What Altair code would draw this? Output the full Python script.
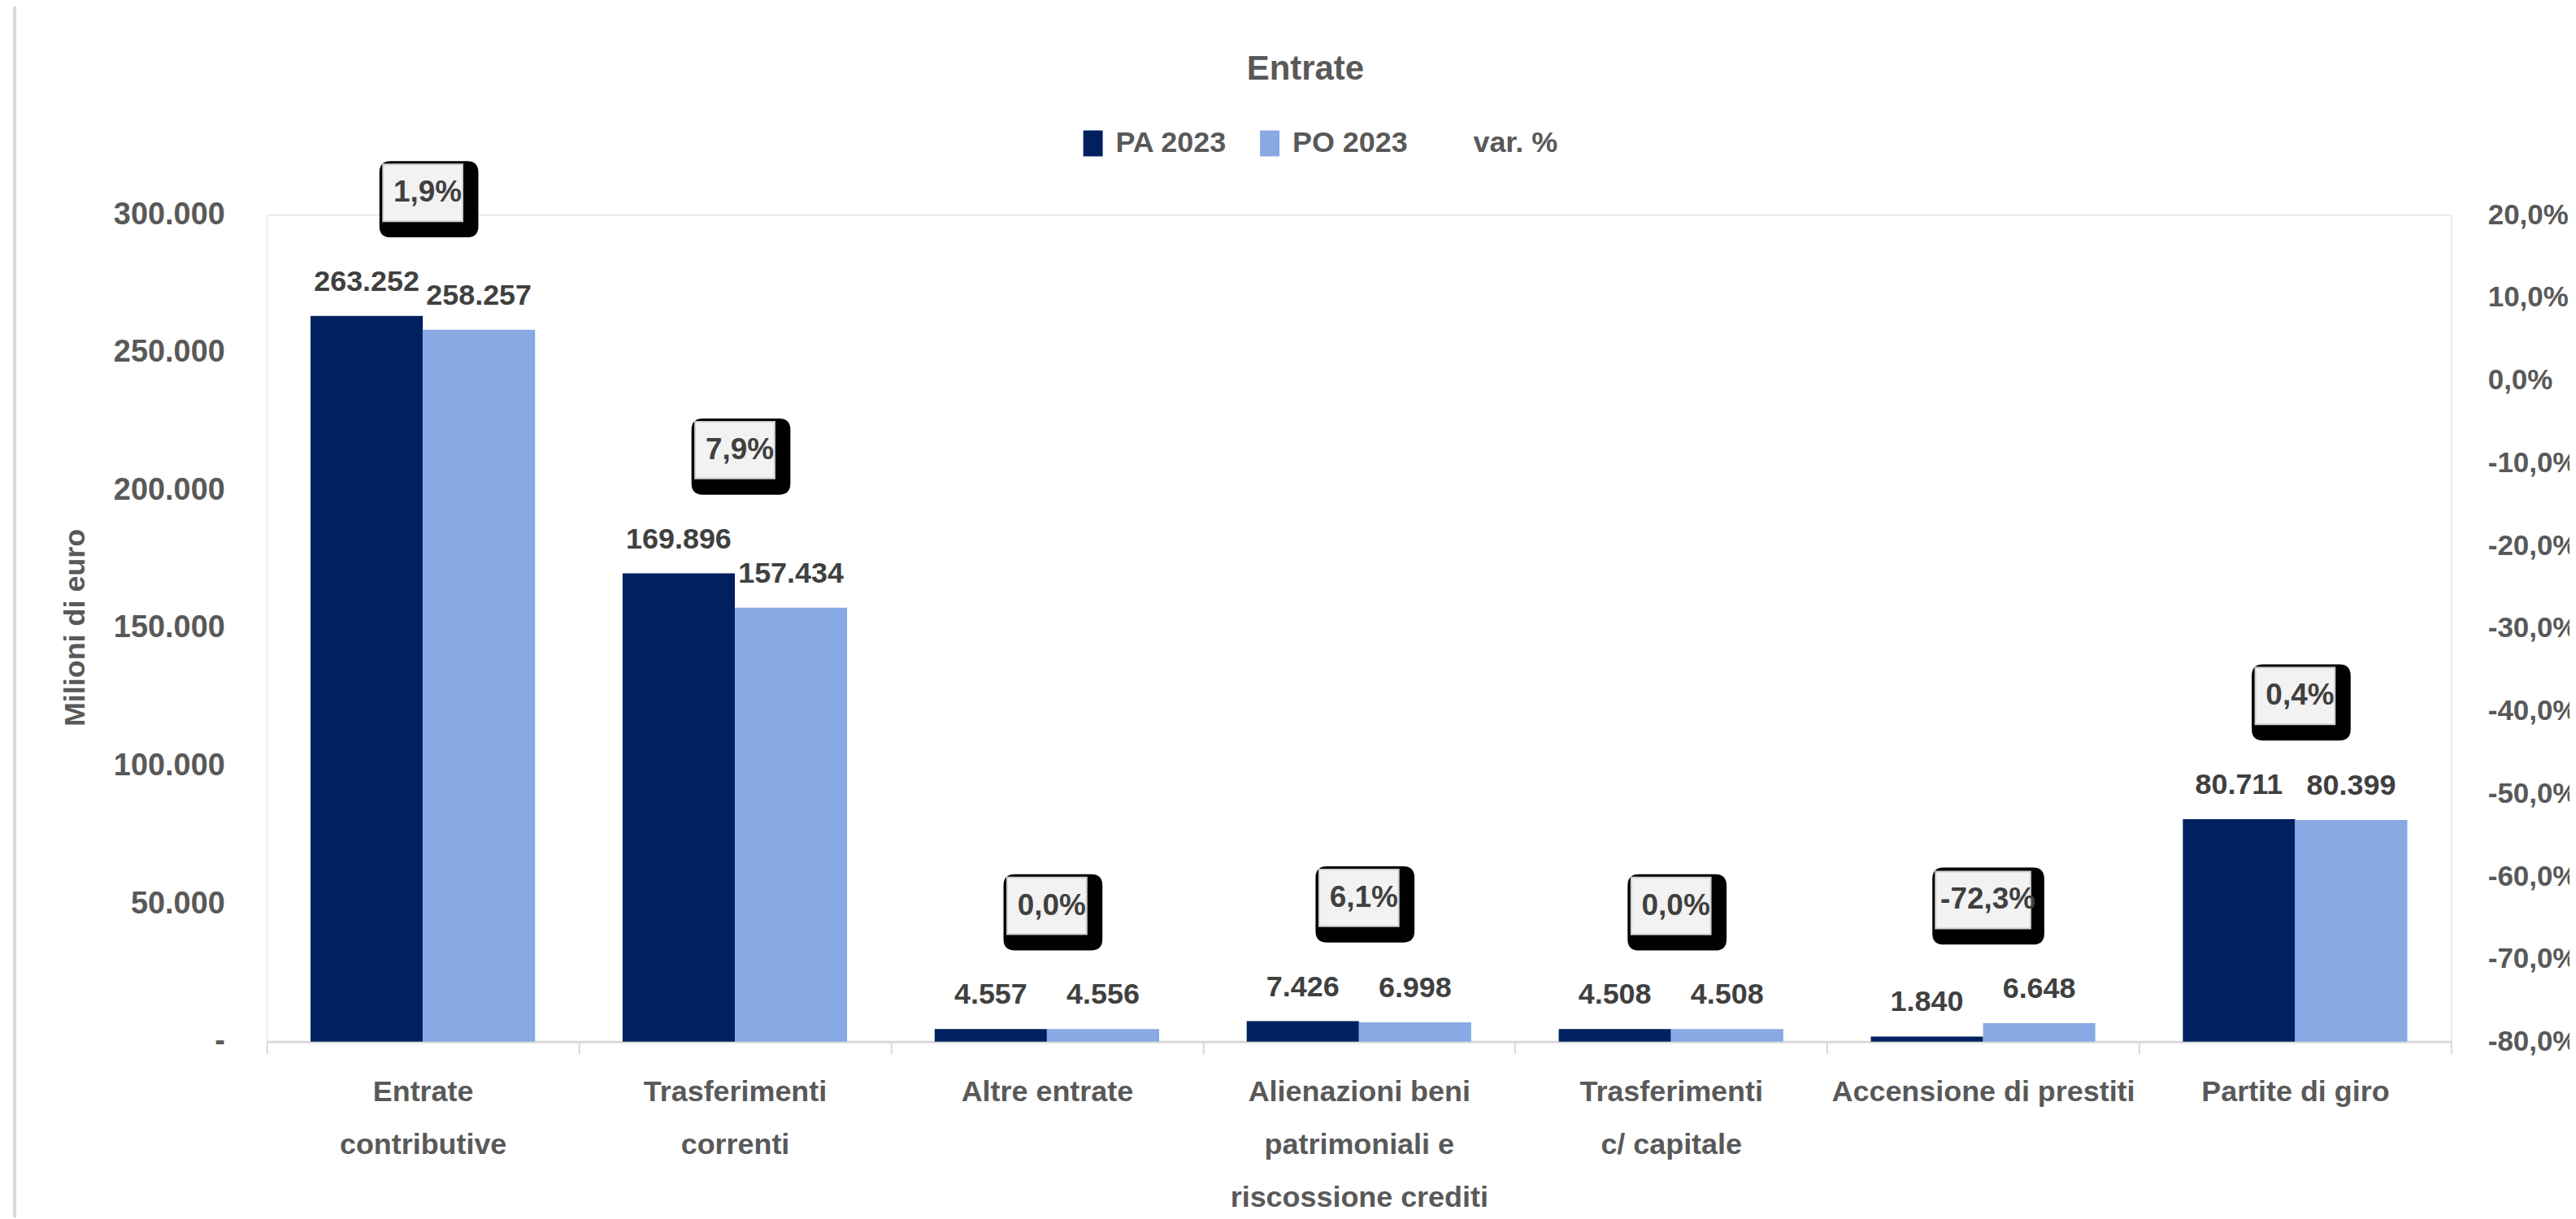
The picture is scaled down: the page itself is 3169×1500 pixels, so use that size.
import altair as alt
import pandas as pd

# ---------------- data ----------------
categories = [
    "Entrate\ncontributive",
    "Trasferimenti\ncorrenti",
    "Altre entrate",
    "Alienazioni beni\npatrimoniali e\nriscossione crediti",
    "Trasferimenti\nc/ capitale",
    "Accensione di prestiti",
    "Partite di giro",
]
pa_2023 = [263252, 169896, 4557, 7426, 4508, 1840, 80711]
po_2023 = [258257, 157434, 4556, 6998, 4508, 6648, 80399]
var_pct = [1.9, 7.9, 0.0, 6.1, 0.0, -72.3, 0.4]
series = ["PA 2023", "PO 2023"]
legend_items = ["PA 2023", "PO 2023", "var. %"]
left_ticks = [0, 50000, 100000, 150000, 200000, 250000, 300000]
right_ticks = [-0.8, -0.7, -0.6, -0.5, -0.4, -0.3, -0.2, -0.1, 0.0, 0.1, 0.2]

# ---------------- style ----------------
DARK = "#002060"
LIGHT = "#88A9E4"
GREY = "#595959"
LABEL = "#404040"
FONT = "Liberation Sans, Arial"


def it_thousands(v):
    return f"{v:,}".replace(",", ".")


def it_pct(v):
    return f"{v:.1f}%".replace(".", ",")


rows = []
for c, a, b in zip(categories, pa_2023, po_2023):
    rows.append({"cat": c, "series": series[0], "value": a, "label": it_thousands(a)})
    rows.append({"cat": c, "series": series[1], "value": b, "label": it_thousands(b)})
bars_df = pd.DataFrame(rows)

box_df = pd.DataFrame({
    "cat": categories,
    "var": [v / 100 for v in var_pct],
    "var_label": [it_pct(v) for v in var_pct],
    "top": [max(a, b) for a, b in zip(pa_2023, po_2023)],
})
box_df["kind"] = ["long" if abs(v) >= 10 else "short" for v in var_pct]
box_df["kind2"] = box_df["kind"]


def rrect(x0, y0, x1, y1, r, u=50.0):
    f = lambda v: f"{v / u:.4f}"
    if r == 0:
        return f"M{f(x0)},{f(y0)}H{f(x1)}V{f(y1)}H{f(x0)}Z"
    return (
        f"M{f(x0 + r)},{f(y0)}H{f(x1 - r)}Q{f(x1)},{f(y0)} {f(x1)},{f(y0 + r)}"
        f"V{f(y1 - r)}Q{f(x1)},{f(y1)} {f(x1 - r)},{f(y1)}H{f(x0 + r)}"
        f"Q{f(x0)},{f(y1)} {f(x0)},{f(y1 - r)}V{f(y0 + r)}Q{f(x0)},{f(y0)} {f(x0 + r)},{f(y0)}Z"
    )


black_short = rrect(-53.5, -39, 68.5, 55, 14)
black_long = rrect(-62.5, -40, 75.5, 55, 14)
light_short = rrect(-49, -35, 49, 35, 0)
light_long = rrect(-58.5, -35, 58.5, 35, 0)
BOX_SIZE = 10000
BOX_DY = -152

x_enc = alt.X(
    "cat:N",
    sort=categories,
    scale=alt.Scale(domain=categories, paddingInner=0, paddingOuter=0),
    axis=alt.Axis(
        title=None,
        labelAngle=0,
        labelExpr="split(datum.label, '\\n')",
        labelFont=FONT,
        labelFontSize=36,
        labelFontWeight="bold",
        labelColor=GREY,
        labelLineHeight=65,
        labelPadding=30,
        labelBaseline="top",
        labelLimit=0,
        tickBand="extent",
        ticks=True,
        tickSize=15,
        tickColor="#D9D9D9",
        tickWidth=2,
        domainColor="#D9D9D9",
        domainWidth=3,
        grid=False,
    ),
)

y_left = alt.Y(
    "value:Q",
    scale=alt.Scale(domain=[0, 300000], nice=False, zero=True),
    axis=alt.Axis(
        title="Milioni di euro",
        values=left_ticks,
        labelExpr="datum.value == 0 ? '-\u00a0\u00a0' : format(datum.value / 1000, 'd') + '.000'",
        domain=False,
        ticks=False,
        grid=False,
        labelPadding=52,
        labelFont=FONT,
        labelFontWeight="bold",
        labelFontSize=38,
        labelColor=GREY,
        titleFont=FONT,
        titleFontSize=36,
        titleFontWeight="bold",
        titleColor=GREY,
        titleAngle=-90,
        titleX=-236,
        titleY=509,
        titleAlign="center",
        titleBaseline="middle",
    ),
)

xoff = alt.XOffset(
    "series:N", sort=series,
    scale=alt.Scale(domain=series, paddingInner=0, paddingOuter=0.39),
)

bars = alt.Chart(bars_df).mark_bar().encode(
    x=x_enc,
    xOffset=xoff,
    y=y_left,
    color=alt.Color(
        "series:N",
        scale=alt.Scale(domain=legend_items, range=[DARK, LIGHT, "transparent"]),
        legend=alt.Legend(
            title=None,
            orient="none",
            legendX=1001,
            legendY=-106,
            direction="horizontal",
            symbolType="M-0.75,-1H0.75V1H-0.75Z",
            symbolSize=1024,
            symbolStrokeWidth=0,
            labelFont=FONT,
            labelFontSize=36,
            labelFontWeight="bold",
            labelColor=GREY,
            labelOffset=10,
            labelLimit=0,
            columnPadding=34,
            padding=0,
        ),
    ),
)

value_labels = alt.Chart(bars_df).mark_text(
    baseline="alphabetic", dy=-31, font=FONT, fontSize=36, fontWeight="bold", color=LABEL
).encode(
    x=alt.X("cat:N", sort=categories),
    xOffset=alt.XOffset("series:N", sort=series),
    y=alt.Y("value:Q"),
    text=alt.Text("label:N"),
)

black_boxes = alt.Chart(box_df).mark_point(
    filled=True, size=BOX_SIZE, opacity=1, color="#000000", strokeWidth=0, yOffset=BOX_DY
).encode(
    x=alt.X("cat:N", sort=categories),
    y=alt.Y("top:Q"),
    shape=alt.Shape("kind:N", scale=alt.Scale(domain=["short", "long"], range=[black_short, black_long]), legend=None),
)

light_boxes = alt.Chart(box_df).mark_point(
    filled=True, size=BOX_SIZE, opacity=1, fill="#F2F2F2", stroke="#D0D0D0", strokeWidth=2, yOffset=BOX_DY
).encode(
    x=alt.X("cat:N", sort=categories),
    y=alt.Y("top:Q"),
    shape=alt.Shape("kind2:N", scale=alt.Scale(domain=["short", "long"], range=[light_short, light_long]), legend=None),
)

box_text = alt.Chart(box_df).mark_text(
    baseline="middle", align="center", dx=6, yOffset=BOX_DY,
    font=FONT, fontSize=37, fontWeight="bold", color=LABEL,
).encode(
    x=alt.X("cat:N", sort=categories),
    y=alt.Y("top:Q"),
    text=alt.Text("var_label:N"),
)

border = alt.Chart(box_df).mark_rule(color="#D9D9D9", strokeWidth=3).encode(
    x=alt.value(-311), y=alt.value(-263), y2=alt.value(1237)
)

left = alt.layer(bars, value_labels, black_boxes, light_boxes, box_text, border).resolve_scale(shape="independent")

right = alt.Chart(box_df).mark_point(opacity=0).encode(
    y=alt.Y(
        "var:Q",
        scale=alt.Scale(domain=[-0.8, 0.2], nice=False, zero=False),
        axis=alt.Axis(
            orient="right",
            title=None,
            values=right_ticks,
            labelExpr="replace(replace(format(datum.value, '.1%'), '.', ','), '\u2212', '-')",
            domain=False,
            ticks=False,
            grid=False,
            labelPadding=45,
            labelFont=FONT,
            labelFontWeight="bold",
            labelFontSize=35,
            labelColor=GREY,
        ),
    )
)

chart = (
    alt.layer(left, right)
    .resolve_scale(y="independent")
    .properties(
        width=2694,
        height=1020,
        padding={"left": 321, "top": 255, "right": 146, "bottom": 217},
        autosize=alt.AutoSizeParams(type="none"),
        title=alt.TitleParams(
            text="Entrate",
            font=FONT,
            fontSize=42,
            fontWeight="bold",
            color=GREY,
            anchor="middle",
            frame="group",
            baseline="alphabetic",
            dx=-66,
            offset=-140,
        ),
    )
    .configure_view(stroke=None)
    .configure(background="white")
)

chart.save("out.html", embed_options={"renderer": "svg", "actions": False})
